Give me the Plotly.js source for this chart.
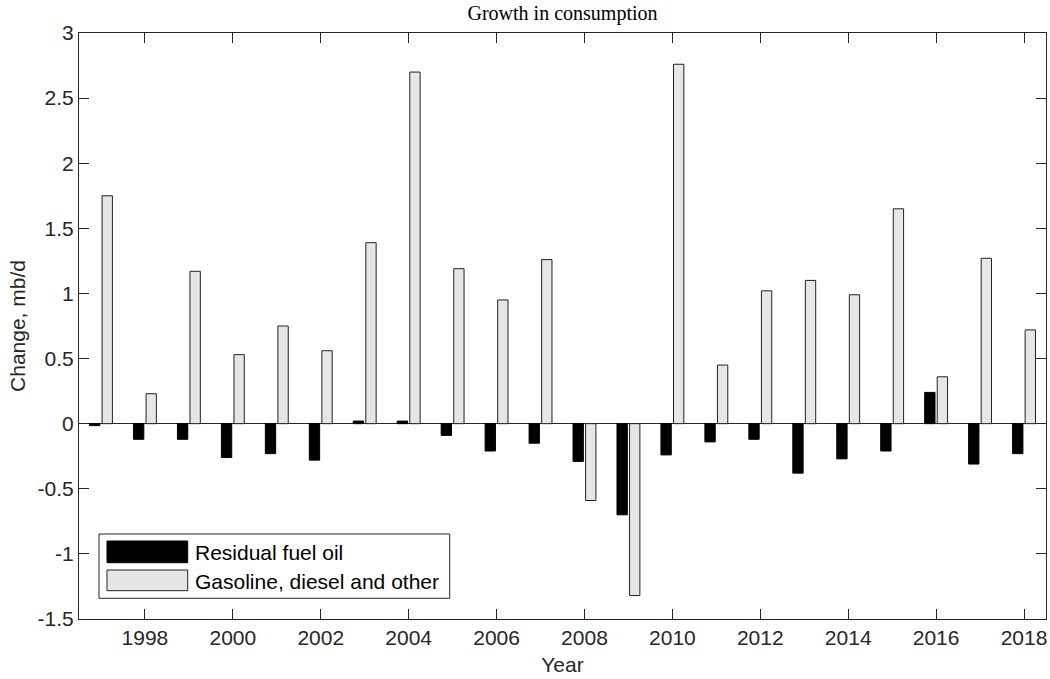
<!DOCTYPE html>
<html>
<head>
<meta charset="utf-8">
<script src="https://cdn.plot.ly/plotly-3.0.1.min.js"></script>
<style>html,body{margin:0;padding:0;background:#fff;}#chart{width:1050px;height:679px;}</style>
</head>
<body>
<div id="chart"></div>
<script>
const years = [1997,1998,1999,2000,2001,2002,2003,2004,2005,2006,2007,2008,2009,2010,2011,2012,2013,2014,2015,2016,2017,2018];
const residualFuelOil = [-0.015,-0.12,-0.12,-0.26,-0.23,-0.28,0.02,0.02,-0.09,-0.21,-0.15,-0.29,-0.70,-0.24,-0.14,-0.12,-0.38,-0.27,-0.21,0.24,-0.31,-0.23];
const gasolineDieselOther = [1.75,0.23,1.17,0.53,0.75,0.56,1.39,2.70,1.19,0.95,1.26,-0.59,-1.32,2.76,0.45,1.02,1.10,0.99,1.65,0.36,1.27,0.72];
const seriesNames = ['Residual fuel oil','Gasoline, diesel and other'];
const xTickVals = [1998,2000,2002,2004,2006,2008,2010,2012,2014,2016,2018];
const yTickVals = [-1.5,-1,-0.5,0,0.5,1,1.5,2,2.5,3];
const yTickText = ['-1.5','-1','-0.5','0','0.5','1','1.5','2','2.5','3'];

const axisColor = '#262626';
const fsize = 21;
const font = {family:'"Liberation Sans", Arial, Helvetica, sans-serif', size:fsize, color:axisColor};

const traces = [
  {type:'bar', x:years, y:residualFuelOil, name:seriesNames[0], width:0.235, offset:-0.2604,
   marker:{color:'#000000', line:{color:'#000000', width:1}}, showlegend:false, hoverinfo:'x+y'},
  {type:'bar', x:years, y:gasolineDieselOther, name:seriesNames[1], width:0.235, offset:0.0254,
   marker:{color:'#e6e6e6', line:{color:'#222222', width:1}}, showlegend:false, hoverinfo:'x+y'}
];

// custom legend (paper coordinates)
const ml = 79, mr = 4, mt = 33, mb = 60;
const pw = 1050 - ml - mr, ph = 679 - mt - mb;
const px = v => (v - ml) / pw;
const py = v => (679 - mb - v) / ph;

const shapes = [
  {type:'rect', xref:'paper', yref:'paper', x0:px(99), x1:px(449.7), y0:py(598.3), y1:py(534), fillcolor:'#ffffff', line:{color:axisColor, width:1}, layer:'above'},
  {type:'rect', xref:'paper', yref:'paper', x0:px(107), x1:px(187.7), y0:py(562.7), y1:py(541), fillcolor:'#000000', line:{color:'#000000', width:1}, layer:'above'},
  {type:'rect', xref:'paper', yref:'paper', x0:px(107), x1:px(187.7), y0:py(590.7), y1:py(570), fillcolor:'#e6e6e6', line:{color:'#222222', width:1}, layer:'above'}
];
const annotations = [
  {xref:'paper', yref:'paper', x:px(193), y:py(552.5), text:seriesNames[0], showarrow:false, xanchor:'left', yanchor:'middle', font:{family:font.family, size:fsize, color:'#000000'}},
  {xref:'paper', yref:'paper', x:px(193), y:py(581), text:seriesNames[1], showarrow:false, xanchor:'left', yanchor:'middle', font:{family:font.family, size:fsize, color:'#000000'}}
];

const layout = {
  width:1050, height:679,
  margin:{l:ml, r:mr, t:mt, b:mb, pad:0},
  paper_bgcolor:'#ffffff', plot_bgcolor:'#ffffff',
  font:font,
  barmode:'overlay',
  showlegend:false,
  title:{text:'Growth in consumption', font:{family:'"Liberation Serif", "Times New Roman", serif', size:20, color:'#000000'}, x:0.5, xref:'paper', xanchor:'center', y:1-13/679, yref:'container', yanchor:'middle'},
  xaxis:{range:[1996.5,2018.5], tickvals:xTickVals, ticks:'inside', ticklen:10, tickwidth:1, tickcolor:axisColor,
    showline:true, linecolor:axisColor, linewidth:1, mirror:'ticks', showgrid:false, zeroline:false,
    title:{text:'Year', font:{size:fsize, color:axisColor}, standoff:9}, tickfont:{size:fsize, color:axisColor}},
  yaxis:{range:[-1.5,3], tickvals:yTickVals, ticktext:yTickText, ticks:'inside', ticklen:10, tickwidth:1, tickcolor:axisColor,
    showline:true, linecolor:axisColor, linewidth:1, mirror:'ticks', showgrid:false,
    zeroline:true, zerolinecolor:axisColor, zerolinewidth:1,
    title:{text:'Change, mb/d', font:{size:fsize, color:axisColor}, standoff:6}, tickfont:{size:fsize, color:axisColor}},
  shapes:shapes, annotations:annotations
};

Plotly.newPlot('chart', traces, layout, {displayModeBar:false, staticPlot:true});
</script>
</body>
</html>
